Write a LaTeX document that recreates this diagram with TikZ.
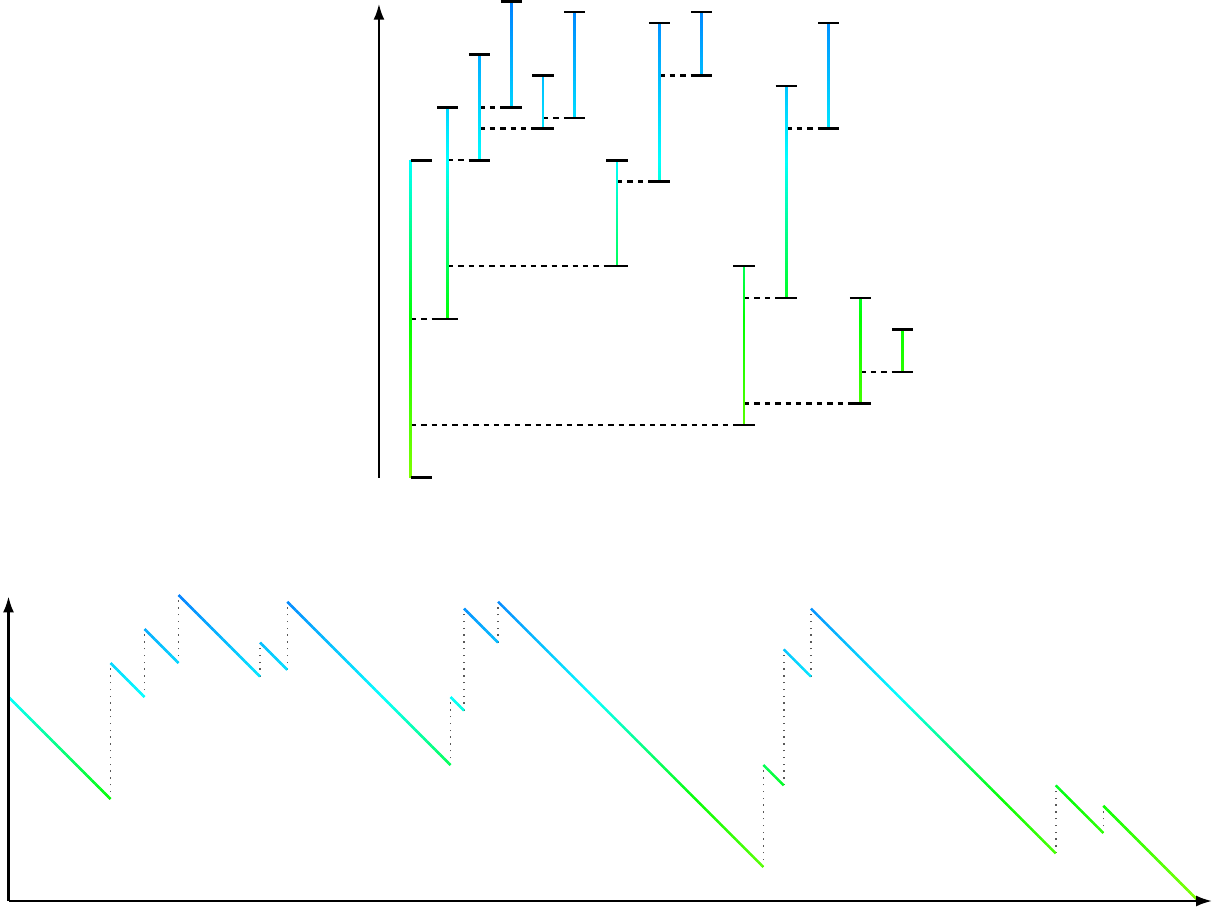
\documentclass[tikz,border=0pt]{standalone}
\usepackage{tikz}
\usetikzlibrary{arrows.meta}
% colour of a life at time #1 (0..45): chartreuse - green - cyan - azure
\def\lifecolor#1{%
	\pgfmathsetmacro\colR{max(0,(15-(#1))/15)*128/255}%
	\pgfmathsetmacro\colB{min(1,max(0,((#1)-15)/15))}%
	\pgfmathsetmacro\colG{1-max(0,((#1)-30)/15)*127/255}%
	\definecolor{lifecol}{rgb}{\colR,\colG,\colB}}
\def\lifeline(#1:#2:#3){%
	\pgfmathtruncatemacro\nseg{4*(#3-#2)}%
	\foreach \k in {1,...,\nseg}{%
		\pgfmathsetmacro\ta{#2+(\k-1)/4}%
		\pgfmathsetmacro\tb{#2+\k/4}%
		\lifecolor{\ta+0.125}%
		\draw[line width=1.3pt, color=lifecol] (#1,\ta) -- (#1,\tb);
	}}
\def\individual(#1:#2:#3){%
	\lifeline(#1:#2:#3)
	\draw[endbar] (#1-1,#2) -- (#1+1,#2);
	\draw[endbar] (#1-1,#3) -- (#1+1,#3);}
\def\descent(#1:#2:#3){%
	\pgfmathtruncatemacro\nseg{4*(#3-#1)}%
	\foreach \k in {1,...,\nseg}{%
		\pgfmathsetmacro\xa{#1+(\k-1)/4}%
		\pgfmathsetmacro\xb{#1+\k/4}%
		\pgfmathsetmacro\va{#2-(\k-1)/4}%
		\pgfmathsetmacro\vb{#2-\k/4}%
		\lifecolor{\va-0.125}%
		\draw[line width=1.25pt, color=lifecol] (\xa,\va) -- (\xb,\vb);
	}}

\begin{document}
\begin{tikzpicture}[
		endbar/.style={line width=1.25pt, black},
		birthline/.style={line width=1.2pt, dash pattern=on 2.7pt off 2.5pt},
		jumpline/.style={line width=0.8pt, black!65, dash pattern=on 0.7pt off 2.7pt},
		axisline/.style={line width=1.2pt, -{Latex[length=8pt,width=5.5pt]}}]
			%%%%% START %%%%%
			\useasboundingbox (0,0) rectangle (607pt,455.5pt);
			
			% the tree
			\begin{scope}[shift={(205.35pt,216.65pt)}, x=5.29pt, y=5.29pt]
				\draw[axisline] (-3,0) -- (-3,44.8);
				
				\draw[birthline] (0,15) -- (2.5,15);
				\draw[birthline] (3.5,30) -- (5.5,30);
				\draw[birthline] (6.5,35) -- (8.5,35);
				\draw[birthline] (6.5,33) -- (11.5,33);
				\draw[birthline] (12.5,34) -- (14.5,34);
				\draw[birthline] (3.5,20) -- (18.5,20);
				\draw[birthline] (19.5,28) -- (22.5,28);
				\draw[birthline] (23.5,38) -- (26.5,38);
				\draw[birthline] (0,5) -- (30.5,5);
				\draw[birthline] (31.5,17) -- (34.5,17);
				\draw[birthline] (35.5,33) -- (38.5,33);
				\draw[birthline] (31.5,7) -- (41.5,7);
				\draw[birthline] (42.5,10) -- (45.5,10);
				
				\lifeline(0:0:30)
				\draw[endbar] (0,0) -- (2,0);
				\draw[endbar] (0,30) -- (2,30);
				\individual(3.5:15:35)
				\individual(6.5:30:40)
				\individual(9.5:35:45)
				\individual(12.5:33:38)
				\individual(15.5:34:44)
				\individual(19.5:20:30)
				\individual(23.5:28:43)
				\individual(27.5:38:44)
				\individual(31.5:5:20)
				\individual(35.5:17:37)
				\individual(39.5:33:43)
				\individual(42.5:7:17)
				\individual(46.5:10:14)
			\end{scope}
			
			% its contour
			\begin{scope}[shift={(4.25pt,5pt)}, x=3.4pt, y=3.4pt]
				\foreach \x/\lo/\hi in {15/15/35, 20/30/40, 25/35/45, 37/33/38, 41/34/44, 65/20/30, 67/28/43, 72/38/44, 111/5/20, 114/17/37, 118/33/43, 154/7/17, 161/10/14}
					\draw[jumpline] (\x,\lo) -- (\x,\hi);
				
				\descent(0:30:15)
				\descent(15:35:20)
				\descent(20:40:25)
				\descent(25:45:37)
				\descent(37:38:41)
				\descent(41:44:65)
				\descent(65:30:67)
				\descent(67:43:72)
				\descent(72:44:111)
				\descent(111:20:114)
				\descent(114:37:118)
				\descent(118:43:154)
				\descent(154:17:161)
				\descent(161:14:175)
				
				\draw[axisline] (0,0) -- (0,44.8);
				\draw[axisline] (0,0) -- (177,0);
			\end{scope}
			
			%%%%% END %%%%%
		\end{tikzpicture}
\end{document}
